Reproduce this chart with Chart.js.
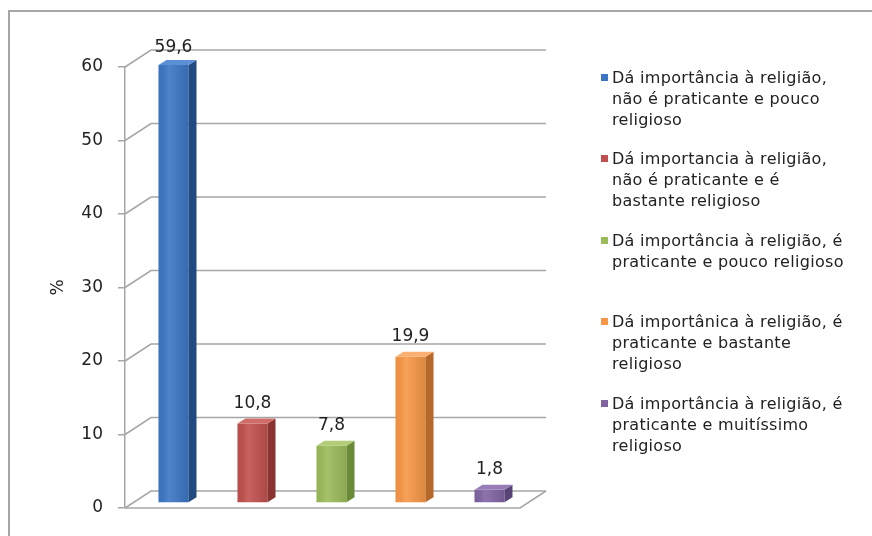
<!DOCTYPE html>
<html>
<head>
<meta charset="utf-8">
<title>Importância da religião</title>
<script src="https://cdn.jsdelivr.net/npm/chart.js@4.4.0/dist/chart.umd.min.js"></script>
<style>
  html, body { margin: 0; padding: 0; background: #fff; }
  #wrap { position: relative; width: 872px; height: 536px; overflow: hidden; }
  #frame { position: absolute; left: 8px; top: 10px; width: 900px; height: 600px;
           border-top: 2px solid #a6a6a6; border-left: 2px solid #a6a6a6; }
  #chart { position: absolute; left: 0; top: 0; }
  #legend { position: absolute; left: 600px; top: 0; font-family: 'DejaVu Sans', sans-serif;
            font-size: 16px; line-height: 21px; letter-spacing: 0.3px; color: #222; }
  .item { position: absolute; left: 0; white-space: nowrap; }
  .box { position: absolute; left: 1px; top: 7px; width: 7px; height: 7px; }
  .txt { position: absolute; left: 12px; top: 0; }
</style>
</head>
<body>
<div id="wrap">
  <div id="frame"></div>
  <canvas id="chart" width="872" height="536"></canvas>
  <div id="legend"></div>
</div>
<script>
// dados
const categories = [
    'Dá importância à religião, não é praticante e pouco religioso',
    'Dá importancia à religião, não é praticante e é bastante religioso',
    'Dá importância à religião, é praticante e pouco religioso',
    'Dá importânica à religião, é praticante e bastante religioso',
    'Dá importância à religião, é praticante e muitíssimo religioso'
];
// quebras de linha da legenda, como no original
const legendLines = [
    ['Dá importância à religião,', 'não é praticante e pouco', 'religioso'],
    ['Dá importancia à religião,', 'não é praticante e é', 'bastante religioso'],
    ['Dá importância à religião, é', 'praticante e pouco religioso'],
    ['Dá importânica à religião, é', 'praticante e bastante', 'religioso'],
    ['Dá importância à religião, é', 'praticante e muitíssimo', 'religioso']
];
const values = [59.6, 10.8, 7.8, 19.9, 1.8];
const yTicks = [0, 10, 20, 30, 40, 50, 60];

// cores (frente, lado, topo)
const frontColors = ['#3b76c5', '#c0504d', '#9bbb59', '#f79646', '#8064a2'];
const sideColors = ['#234a80', '#8a3431', '#6b8a35', '#b5682a', '#594477'];
const topColors = ['#5b90d6', '#d16d69', '#b3cd77', '#fbb071', '#977cb8'];
const gridColor = '#a6a6a6';

// profundidade 3D
const DX = 26, DY = -17;   // parede
const BX = 9, BY = -5;     // deslocamento das barras
const SX = 8, SY = -5;     // espessura das barras

function fmt(v) {
    return v.toFixed(1).replace('.', ',');
}

const bar3d = {
    id: 'bar3d',
    beforeDatasetsDraw(chart) {
        const { ctx, chartArea: a, scales: { y } } = chart;
        ctx.save();
        ctx.strokeStyle = gridColor;
        ctx.lineWidth = 1.5;
        yTicks.forEach(v => {
            const py = y.getPixelForValue(v);
            ctx.beginPath();
            ctx.moveTo(a.left, py);
            ctx.lineTo(a.left + DX, py + DY);
            ctx.lineTo(a.right + DX, py + DY);
            ctx.stroke();
        });
        // chão
        const p0 = y.getPixelForValue(0);
        ctx.beginPath();
        ctx.moveTo(a.left, p0);
        ctx.lineTo(a.right, p0);
        ctx.lineTo(a.right + DX, p0 + DY);
        ctx.stroke();
        ctx.restore();

        ctx.save();
        ctx.translate(BX, BY);
    },
    afterDatasetsDraw(chart) {
        const ctx = chart.ctx;
        ctx.restore();
        const meta = chart.getDatasetMeta(0);
        meta.data.forEach((bar, i) => {
            const { x, y, base, width } = bar.getProps(['x', 'y', 'base', 'width'], true);
            const l = x - width / 2 + BX, r = x + width / 2 + BX;
            const t = y + BY, b = base + BY;

            // brilho leve na face da frente
            const g = ctx.createLinearGradient(l, 0, r, 0);
            g.addColorStop(0, 'rgba(0,0,0,0.04)');
            g.addColorStop(0.35, 'rgba(255,255,255,0.10)');
            g.addColorStop(1, 'rgba(0,0,0,0.10)');
            ctx.fillStyle = g;
            ctx.fillRect(l, t, r - l, b - t);

            ctx.fillStyle = sideColors[i];
            ctx.beginPath();
            ctx.moveTo(r, t);
            ctx.lineTo(r + SX, t + SY);
            ctx.lineTo(r + SX, b + SY);
            ctx.lineTo(r, b);
            ctx.closePath();
            ctx.fill();

            ctx.fillStyle = topColors[i];
            ctx.beginPath();
            ctx.moveTo(l, t);
            ctx.lineTo(l + SX, t + SY);
            ctx.lineTo(r + SX, t + SY);
            ctx.lineTo(r, t);
            ctx.closePath();
            ctx.fill();

            ctx.fillStyle = '#222';
            ctx.font = '17px "DejaVu Sans"';
            ctx.textAlign = 'center';
            ctx.textBaseline = 'middle';
            ctx.fillText(fmt(values[i]), x + BX, t - (i === 0 ? 17 : 20));
        });
    }
};

Chart.defaults.font.family = "'DejaVu Sans', sans-serif";
Chart.defaults.color = '#222';

new Chart(document.getElementById('chart'), {
    type: 'bar',
    data: {
        labels: categories,
        datasets: [{
            data: values,
            backgroundColor: frontColors,
            borderWidth: 0,
            categoryPercentage: 1,
            barPercentage: 0.38,
            clip: false
        }]
    },
    options: {
        responsive: false,
        animation: false,
        layout: { padding: { top: 67, bottom: 28, left: 44, right: 352 } },
        plugins: { legend: { display: false }, tooltip: { enabled: false } },
        scales: {
            x: { display: false },
            y: {
                min: 0, max: 60,
                afterFit: s => { s.width = 81; },
                afterBuildTicks: s => { s.ticks = yTicks.map(v => ({ value: v })); },
                ticks: { padding: 15, font: { size: 17 }, color: '#222' },
                grid: { drawOnChartArea: false, drawTicks: true, tickLength: 7, color: gridColor, lineWidth: 1.5 },
                border: { display: true, color: gridColor, width: 1.5 },
                title: { display: true, text: '%', font: { size: 17 }, color: '#222' }
            }
        }
    },
    plugins: [bar3d]
});

// legenda
const legend = document.getElementById('legend');
legendLines.forEach((lines, i) => {
    const item = document.createElement('div');
    item.className = 'item';
    item.style.top = (66.5 + i * 81.5) + 'px';
    item.title = categories[i];
    item.innerHTML = `<span class="box" style="background:${frontColors[i]}"></span>` +
        `<span class="txt">${lines.join('<br>')}</span>`;
    legend.appendChild(item);
});
</script>
</body>
</html>
